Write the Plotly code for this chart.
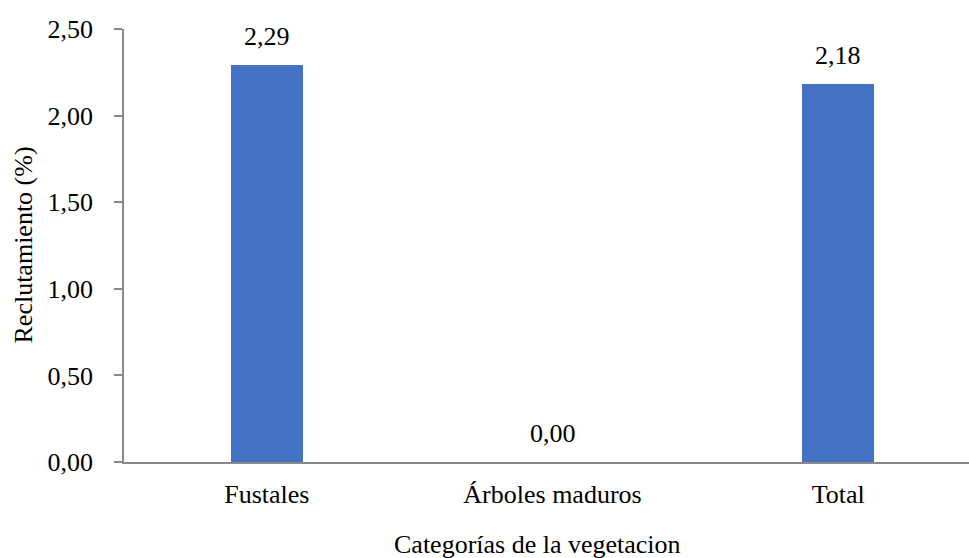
import plotly.graph_objects as go

# Recruitment (%) by vegetation category
categories = ["Fustales", "Árboles maduros", "Total"]
recruitment = [2.29, 0.00, 2.18]
tick_values = [0.0, 0.5, 1.0, 1.5, 2.0, 2.5]
tick_labels = ["0,00", "0,50", "1,00", "1,50", "2,00", "2,50"]

FONT = "Liberation Serif"
BAR_COLOR = "#4472C4"
AXIS_COLOR = "#898989"

W, H = 969, 558
L, R, T, B = 124, 0, 29, 96
plot_w = W - L - R


def fmt(v):
    return f"{v:.2f}".replace(".", ",")


fig = go.Figure()
fig.add_trace(go.Bar(
    x=categories,
    y=recruitment,
    marker=dict(color=BAR_COLOR, line=dict(width=0)),
    width=0.25,
    hoverinfo="skip",
))

# value labels above each bar
for cat, val in zip(categories, recruitment):
    fig.add_annotation(
        x=cat, y=val, xref="x", yref="y",
        text=fmt(val), showarrow=False,
        yanchor="bottom", yshift=12,
        font=dict(family=FONT, size=26, color="#000000"),
    )

# axis titles
fig.add_annotation(
    x=(23 - L) / plot_w, y=0.5, xref="paper", yref="paper",
    text="Reclutamiento (%)", textangle=-90, showarrow=False,
    xanchor="center", yanchor="middle",
    font=dict(family=FONT, size=26, color="#000000"),
)
fig.add_annotation(
    x=(537 - L) / plot_w, y=-(544 - (H - B)) / (H - T - B),
    xref="paper", yref="paper",
    text="Categorías de la vegetacion", showarrow=False,
    xanchor="center", yanchor="middle",
    font=dict(family=FONT, size=26, color="#000000"),
)

fig.update_layout(
    width=W, height=H,
    margin=dict(l=L, r=R, t=T, b=B, pad=0),
    paper_bgcolor="white", plot_bgcolor="white",
    showlegend=False,
    font=dict(family=FONT, size=26, color="#000000"),
    bargap=0,
)
fig.update_xaxes(
    type="category",
    range=[-0.5, 2.458],
    showline=True, linecolor=AXIS_COLOR, linewidth=1.5,
    showgrid=False, zeroline=False,
    ticks="", ticklabelstandoff=8,
    tickfont=dict(family=FONT, size=26, color="#000000"),
)
fig.update_yaxes(
    range=[0, 2.5],
    tickvals=tick_values, ticktext=tick_labels,
    showline=True, linecolor=AXIS_COLOR, linewidth=1.5,
    showgrid=False, zeroline=False,
    ticks="outside", ticklen=8, tickcolor=AXIS_COLOR, tickwidth=1.5,
    ticklabelstandoff=16,
    tickfont=dict(family=FONT, size=26, color="#000000"),
)

fig.write_html("out.html")
